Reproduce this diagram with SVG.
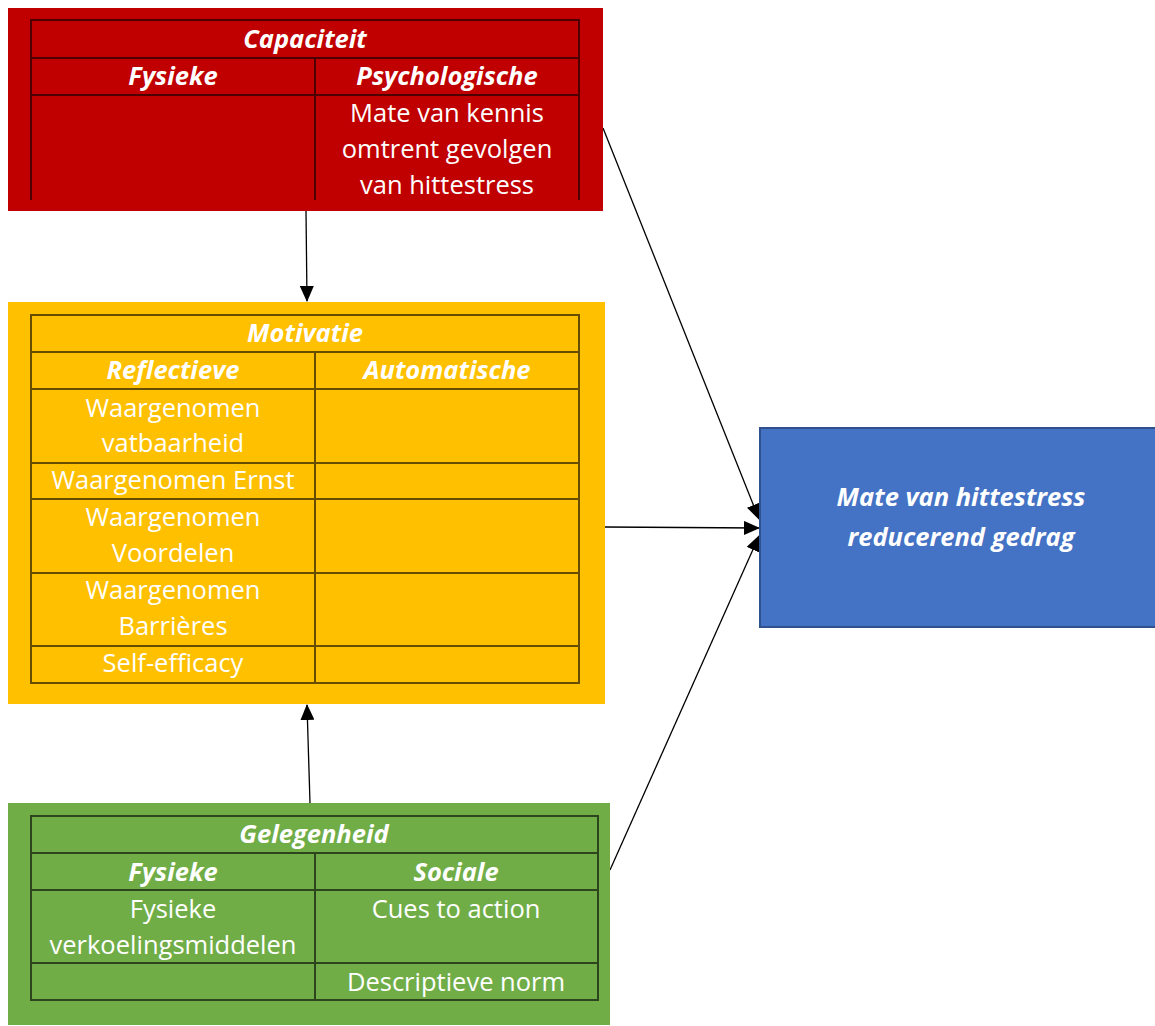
<svg xmlns="http://www.w3.org/2000/svg" width="1155" height="1026" viewBox="0 0 1155 1026">
<style>
.grid{fill:none;stroke:#000;stroke-opacity:0.6;stroke-width:2}
.h{font-family:"Open Sans","Liberation Sans",sans-serif;font-weight:bold;font-style:italic;font-size:25.5px;fill:#fff;text-anchor:middle}
.t{font-family:"Open Sans","Liberation Sans",sans-serif;font-size:25.5px;fill:#fff;text-anchor:middle}
.big{font-family:"Open Sans","Liberation Sans",sans-serif;font-weight:bold;font-style:italic;font-size:25.5px;fill:#fff;text-anchor:middle}
.c{stroke:#000;stroke-width:1.3;fill:none;marker-end:url(#ah)}
</style>
<defs>
<marker id="ah" markerWidth="16" markerHeight="14" refX="15" refY="7" orient="auto" markerUnits="userSpaceOnUse">
<path d="M0,0 L16,7 L0,14 Z" fill="#000"/>
</marker>
</defs>
<rect width="1155" height="1026" fill="#fff"/>
<g id="connectors">
<line class="c" x1="306" y1="211" x2="307" y2="301"/>
<line class="c" x1="310" y1="803" x2="307" y2="705"/>
<line class="c" x1="603" y1="128" x2="759" y2="519"/>
<line class="c" x1="605" y1="527" x2="759" y2="528"/>
<line class="c" x1="610" y1="870" x2="759" y2="536"/>
</g>
<g id="capaciteit">
<rect x="8" y="8" width="595" height="203" fill="#C00000"/>
<path class="grid" d="M31,200 V20 H579 V200 M31,58 H579 M31,95 H579 M315,58 V200"/>
<text class="h" x="305" y="48">Capaciteit</text>
<text class="h" x="173" y="85">Fysieke</text>
<text class="h" x="447" y="85">Psychologische</text>
<text class="t" x="447" y="122">Mate van kennis</text>
<text class="t" x="447" y="158">omtrent gevolgen</text>
<text class="t" x="447" y="194">van hittestress</text>
</g>
<g id="motivatie">
<rect x="8" y="302" width="597" height="402" fill="#FFC000"/>
<path class="grid" d="M31,315 H579 V683 H31 Z M31,352 H579 M31,389 H579 M31,463 H579 M31,499 H579 M31,573 H579 M31,646 H579 M315,352 V683"/>
<text class="h" x="305" y="342">Motivatie</text>
<text class="h" x="173" y="379">Reflectieve</text>
<text class="h" x="447" y="379">Automatische</text>
<text class="t" x="173" y="417">Waargenomen</text>
<text class="t" x="173" y="452">vatbaarheid</text>
<text class="t" x="173" y="489">Waargenomen Ernst</text>
<text class="t" x="173" y="526">Waargenomen</text>
<text class="t" x="173" y="562">Voordelen</text>
<text class="t" x="173" y="599">Waargenomen</text>
<text class="t" x="173" y="635">Barrières</text>
<text class="t" x="173" y="672">Self-efficacy</text>
</g>
<g id="gelegenheid">
<rect x="8" y="803" width="602" height="222" fill="#70AD47"/>
<path class="grid" d="M31,816 H598 V1000 H31 Z M31,853 H598 M31,890 H598 M31,963 H598 M315,853 V1000"/>
<text class="h" x="314" y="843">Gelegenheid</text>
<text class="h" x="173" y="881">Fysieke</text>
<text class="h" x="456" y="881">Sociale</text>
<text class="t" x="173" y="918">Fysieke</text>
<text class="t" x="173" y="954">verkoelingsmiddelen</text>
<text class="t" x="456" y="918">Cues to action</text>
<text class="t" x="456" y="991">Descriptieve norm</text>
</g>
<g id="gedrag">
<rect x="760" y="428" width="400" height="199" fill="#4472C4" stroke="#2F528F" stroke-width="2"/>
<text class="big" x="961" y="506">Mate van hittestress</text>
<text class="big" x="961" y="546">reducerend gedrag</text>
</g>
</svg>
